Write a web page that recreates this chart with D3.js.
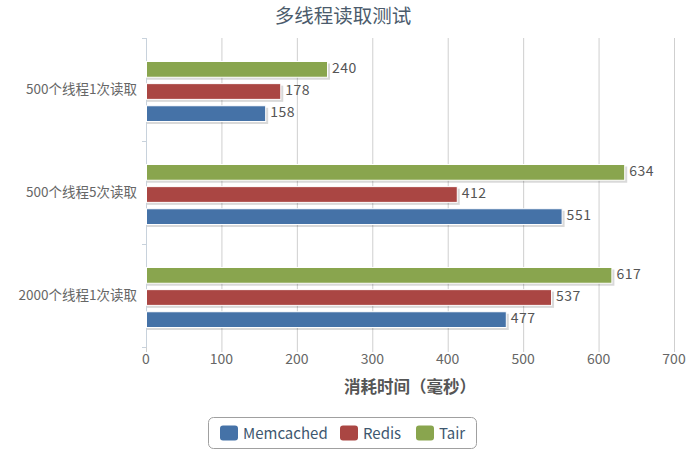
<!DOCTYPE html>
<html>
<head>
<meta charset="utf-8">
<script src="https://cdn.jsdelivr.net/npm/d3@7"></script>
<style>
  html, body { margin: 0; padding: 0; background: #fff; }
  svg { display: block; font-family: 'Noto Sans CJK SC', 'Noto Sans', sans-serif; }
</style>
</head>
<body>
<div id="chart"></div>
<script>
const categories = ['500个线程1次读取', '500个线程5次读取', '2000个线程1次读取']
const seriesNames = ['Memcached', 'Redis', 'Tair']
const memcached = [158, 551, 477]
const redis = [178, 412, 537]
const tair = [240, 634, 617]
const xTicks = [0, 100, 200, 300, 400, 500, 600, 700]

const colors = d3.scaleOrdinal()
  .domain(seriesNames)
  .range(['#4572A7', '#AA4643', '#89A54E'])

const dataset = seriesNames.map((name, i) => ({
  name: name,
  values: [memcached, redis, tair][i]
}))

const width = 693
const height = 453
const margin = { top: 38, right: 19, bottom: 106, left: 146 }

const svg = d3.select('#chart')
  .append('svg')
  .attr('width', width)
  .attr('height', height)
  .attr('viewBox', [0, 0, width, height])

const xScale = d3.scaleLinear()
  .domain([0, 700])
  .range([margin.left, width - margin.right])
const yScale = d3.scaleBand()
  .domain(categories)
  .range([margin.top, height - margin.bottom])
// Tair on top, Memcached at the bottom of each group
const inner = d3.scaleBand()
  .domain(['Tair', 'Redis', 'Memcached'])
  .range([24, yScale.bandwidth() - 20])
  .paddingInner(1 / 3)

// title
svg.append('text')
  .attr('x', 343)
  .attr('y', 23)
  .attr('text-anchor', 'middle')
  .attr('fill', '#4b5b6c')
  .style('font-size', '19.5px')
  .text('多线程读取测试')

// grid lines on the value axis
svg.append('g')
  .selectAll('line')
  .data(xTicks)
  .join('line')
  .attr('x1', d => xScale(d) + 0.5)
  .attr('x2', d => xScale(d) + 0.5)
  .attr('y1', margin.top)
  .attr('y2', height - margin.bottom + 5)
  .attr('stroke', '#cfcfcf')
  .attr('stroke-width', 1)

// category axis line and ticks
svg.append('line')
  .attr('x1', margin.left + 0.5)
  .attr('x2', margin.left + 0.5)
  .attr('y1', margin.top)
  .attr('y2', height - margin.bottom)
  .attr('stroke', '#c8d2dc')
const catTicks = categories.map(c => yScale(c)).concat([height - margin.bottom])
svg.append('g')
  .selectAll('line')
  .data(catTicks)
  .join('line')
  .attr('x1', margin.left - 4)
  .attr('x2', margin.left)
  .attr('y1', d => Math.round(d) + 0.5)
  .attr('y2', d => Math.round(d) + 0.5)
  .attr('stroke', '#c8d2dc')

// category labels
svg.append('g')
  .selectAll('text')
  .data(categories)
  .join('text')
  .attr('x', margin.left - 9)
  .attr('y', d => yScale(d) + yScale.bandwidth() / 2 + 4.5)
  .attr('text-anchor', 'end')
  .attr('fill', '#666')
  .style('font-size', '13.5px')
  .text(d => d)

// x tick labels
svg.append('g')
  .selectAll('text')
  .data(xTicks)
  .join('text')
  .attr('x', d => xScale(d))
  .attr('y', height - margin.bottom + 17)
  .attr('text-anchor', 'middle')
  .attr('fill', '#666')
  .style('font-size', '14px')
  .text(d => d)

// axis title
svg.append('text')
  .attr('x', (margin.left + width - margin.right) / 2)
  .attr('y', 393)
  .attr('text-anchor', 'middle')
  .attr('fill', '#555')
  .style('font-size', '16.5px')
  .style('font-weight', 'bold')
  .text('消耗时间（毫秒）')

// bars
const barH = inner.bandwidth()
const series = svg.selectAll('.series')
  .data(dataset)
  .join('g')
  .attr('class', 'series')
series.each(function (s) {
  const g = d3.select(this)
  const rows = s.values.map((v, i) => ({ name: s.name, value: v, cat: categories[i] }))
  // shadow
  g.selectAll('.shadow')
    .data(rows)
    .join('rect')
    .attr('class', 'shadow')
    .attr('x', xScale(0) + 1)
    .attr('y', d => yScale(d.cat) + inner(d.name) + 1.5)
    .attr('width', d => xScale(d.value) - xScale(0) + 2)
    .attr('height', barH + 1.5)
    .attr('fill', '#000')
    .attr('opacity', 0.15)
  g.selectAll('.bar')
    .data(rows)
    .join('rect')
    .attr('class', 'bar')
    .attr('x', xScale(0) + 0.5)
    .attr('y', d => yScale(d.cat) + inner(d.name) - 0.5)
    .attr('width', d => xScale(d.value) - xScale(0))
    .attr('height', barH + 1)
    .attr('fill', colors(s.name))
    .attr('stroke', '#fff')
    .attr('stroke-width', 1)
  g.selectAll('.label')
    .data(rows)
    .join('text')
    .attr('class', 'label')
    .attr('x', d => xScale(d.value) + 5)
    .attr('y', d => yScale(d.cat) + inner(d.name) + barH / 2 + 3.5)
    .attr('fill', '#555')
    .style('font-size', '14px')
    .style('letter-spacing', '0.5px')
    .text(d => d.value)
})

// legend
const legend = svg.append('g')
  .attr('transform', 'translate(208, 417)')
legend.append('rect')
  .attr('x', 0.5)
  .attr('y', 0.5)
  .attr('width', 268)
  .attr('height', 31)
  .attr('rx', 5)
  .attr('fill', '#fff')
  .attr('stroke', '#a0a0a0')
const legendX = [12, 132, 208]
const item = legend.selectAll('.item')
  .data(seriesNames)
  .join('g')
  .attr('class', 'item')
  .attr('transform', (d, i) => `translate(${legendX[i]}, 0)`)
item.append('rect')
  .attr('x', 0)
  .attr('y', 8.5)
  .attr('width', 18)
  .attr('height', 15)
  .attr('rx', 3)
  .attr('fill', d => colors(d))
item.append('text')
  .attr('x', 23)
  .attr('y', 21.5)
  .attr('fill', '#3E576F')
  .style('font-size', '15px')
  .text(d => d)
</script>
</body>
</html>
